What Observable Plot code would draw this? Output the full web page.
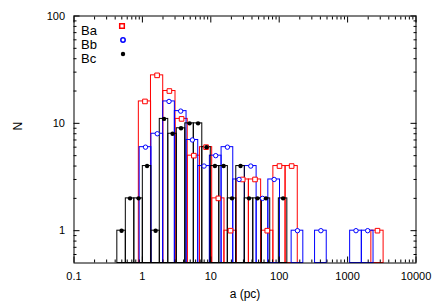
<!DOCTYPE html>
<html><head><meta charset="utf-8">
<script src="https://cdn.jsdelivr.net/npm/d3@7"></script>
<script src="https://cdn.jsdelivr.net/npm/@observablehq/plot@0.6"></script>
<style>body{margin:0;background:#fff}#chart{width:436px;height:305px}</style>
</head><body><div id="chart"></div>
<script>
// Ba series: bin centres (pc) and counts
const baA = [1.09, 1.64, 2.48, 3.74, 5.65, 8.53, 12.9, 19.4, 29.3, 44.3, 66.9, 101, 152, 2734];
const baN = [16, 28, 20, 11, 5, 6, 2, 1, 3, 3, 1, 4, 4, 1];
// Bb series
const bbA = [1.11, 1.65, 2.45, 3.63, 5.38, 7.97, 11.8, 17.5, 25.9, 38.4, 57.0, 84.4, 185, 407, 1326, 1966];
const bbN = [6, 8, 16, 13, 7, 4, 5, 6, 3, 4, 2, 3, 1, 1, 1, 1];
// Bc series
const bcA = [0.496, 0.660, 0.879, 1.17, 1.56, 2.07, 2.76, 3.67, 4.89, 6.51, 8.66, 11.5, 15.4, 20.4, 27.2, 36.2, 48.2, 64.1, 114];
const bcN = [1, 2, 2, 4, 1, 11, 8, 9, 10, 10, 6, 4, 4, 2, 4, 2, 2, 2, 2];
// half bin widths in dex
const halfW = {Ba: 0.0895, Bb: 0.0854, Bc: 0.062};
const seriesNames = ["Ba", "Bb", "Bc"];
const colors = {Ba: "#ff0000", Bb: "#0000ff", Bc: "#000000"};

const xMajor = [0.1, 1, 10, 100, 1000, 10000];
const xMajorLabels = ["0.1", "1", "10", "100", "1000", "10000"];
const yMajor = [1, 10, 100];
const yMajorLabels = ["1", "10", "100"];
const xLab = new Map(xMajor.map((v, i) => [v, xMajorLabels[i]]));
const yLab = new Map(yMajor.map((v, i) => [v, yMajorLabels[i]]));

const xMinor = [];
for (const d of [0.1, 1, 10, 100, 1000]) for (let m = 2; m <= 9; m++) xMinor.push(+(d * m).toPrecision(3));
const yMinor = [0.6, 0.7, 0.8, 0.9];
for (const d of [1, 10]) for (let m = 2; m <= 9; m++) yMinor.push(d * m);

function rows(name, A, N) {
  const h = Math.pow(10, halfW[name]);
  return A.map((a, i) => ({s: name, a, n: N[i], lo: a / h, hi: a * h}));
}
const ba = rows("Ba", baA, baN), bb = rows("Bb", bbA, bbN), bc = rows("Bc", bcA, bcN);

const font = "'Liberation Sans', Arial, Helvetica, sans-serif";
const legendDy = [10, 24, 38];
const legendMarks = [];
seriesNames.forEach((s, i) => {
  legendMarks.push(Plot.text([s], {frameAnchor: "top-left", dx: 7, dy: legendDy[i], fontSize: 13, textAnchor: "start", fill: "#000"}));
});
legendMarks.push(Plot.dot([0], {frameAnchor: "top-left", dx: 48, dy: legendDy[0], symbol: "square", r: 2.6, fill: "white", stroke: colors.Ba}));
legendMarks.push(Plot.dot([0], {frameAnchor: "top-left", dx: 49, dy: legendDy[1], symbol: "circle", r: 2.2, fill: "white", stroke: colors.Bb}));
legendMarks.push(Plot.dot([0], {frameAnchor: "top-left", dx: 49, dy: legendDy[2], symbol: "circle", r: 2.2, fill: colors.Bc, stroke: "none"}));

const chart = Plot.plot({
  width: 436, height: 305,
  marginLeft: 73.5, marginRight: 20.5, marginTop: 15.5, marginBottom: 42.5,
  style: {fontFamily: font, fontSize: "11px", color: "#000", background: "#fff"},
  x: {type: "log", domain: [0.1, 10000]},
  y: {type: "log", domain: [0.5, 100]},
  marks: [
    Plot.rect(ba, {x1: "lo", x2: "hi", y1: 0.5, y2: "n", fill: "none", stroke: colors.Ba, strokeWidth: 1}),
    Plot.rect(bb, {x1: "lo", x2: "hi", y1: 0.5, y2: "n", fill: "none", stroke: colors.Bb, strokeWidth: 1}),
    Plot.rect(bc, {x1: "lo", x2: "hi", y1: 0.5, y2: "n", fill: "none", stroke: colors.Bc, strokeWidth: 1}),
    Plot.dot(ba, {x: "a", y: "n", symbol: "square", r: 2.6, fill: "white", stroke: colors.Ba, strokeWidth: 1}),
    Plot.dot(bb, {x: "a", y: "n", symbol: "circle", r: 2.2, fill: "white", stroke: colors.Bb, strokeWidth: 1}),
    Plot.dot(bc, {x: "a", y: "n", symbol: "circle", r: 2.2, fill: colors.Bc, stroke: "none"}),
    // tick labels
    Plot.axisX({anchor: "bottom", ticks: xMajor, tickSize: 0, tickPadding: 9, tickFormat: (d) => xLab.get(d), label: null, fontSize: 11, fill: "#000"}),
    Plot.axisY({anchor: "left", ticks: yMajor, tickSize: 0, tickPadding: 9, tickFormat: (d) => yLab.get(d), label: null, fontSize: 11, fill: "#000"}),
    // inward ticks
    Plot.axisX(xMajor, {anchor: "bottom", tickSize: -6, text: null, label: null}),
    Plot.axisX(xMajor, {anchor: "top", tickSize: -6, text: null, label: null}),
    Plot.axisX(xMinor, {anchor: "bottom", tickSize: -3, text: null, label: null}),
    Plot.axisX(xMinor, {anchor: "top", tickSize: -3, text: null, label: null}),
    Plot.axisY(yMajor, {anchor: "left", tickSize: -6, text: null, label: null}),
    Plot.axisY(yMajor, {anchor: "right", tickSize: -6, text: null, label: null}),
    Plot.axisY(yMinor, {anchor: "left", tickSize: -3, text: null, label: null}),
    Plot.axisY(yMinor, {anchor: "right", tickSize: -3, text: null, label: null}),
    Plot.frame({stroke: "#000"}),
    // axis titles
    Plot.text(["a (pc)"], {frameAnchor: "bottom", dy: 35, fontSize: 12, fill: "#000"}),
    Plot.text(["N"], {frameAnchor: "left", dx: -56, dy: -9, rotate: -90, fontSize: 12, fill: "#000"}),
    ...legendMarks
  ]
});
document.getElementById("chart").appendChild(chart);
</script>
</body></html>
